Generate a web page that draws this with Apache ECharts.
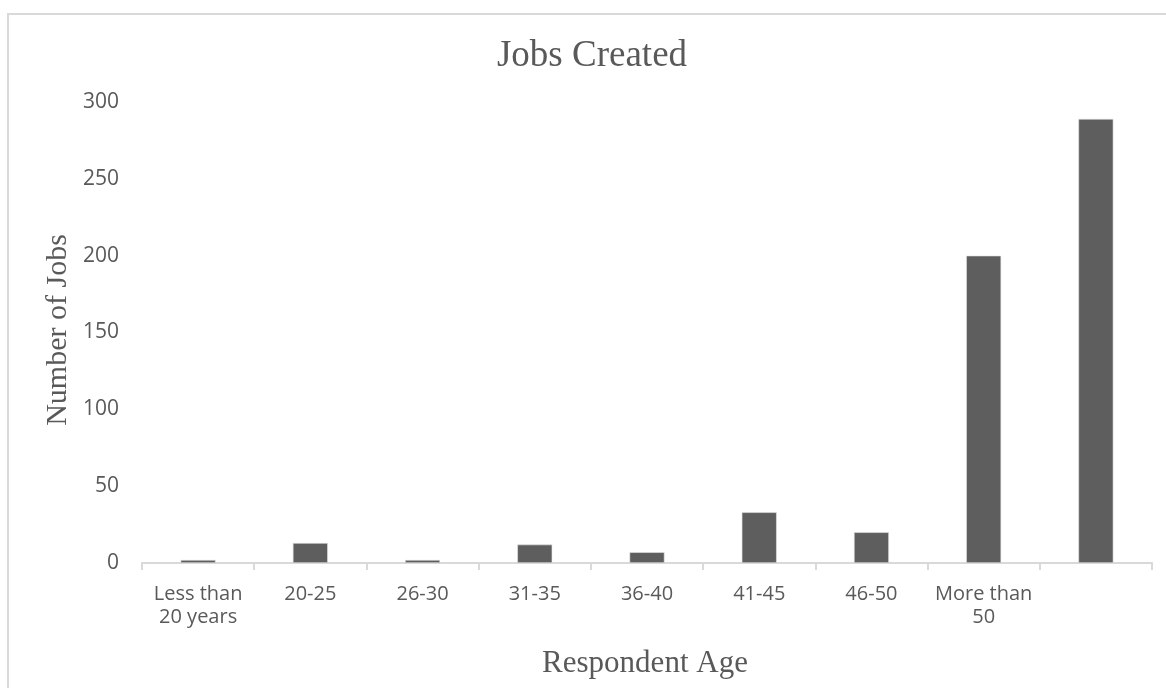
<!DOCTYPE html>
<html>
<head>
<meta charset="utf-8">
<script src="https://cdn.jsdelivr.net/npm/echarts@6/dist/echarts.min.js"></script>
<style>
html,body{margin:0;padding:0;background:#fff;}
#c{width:1166px;height:688px;}
</style>
</head>
<body>
<div id="c"></div>
<script>
const categories = ["Less than\n20 years", "20-25", "26-30", "31-35", "36-40", "41-45", "46-50", "More than\n50", ""];
const jobs = [2, 13, 2, 12, 7, 33, 20, 200, 289];
const yTicks = [0, 50, 100, 150, 200, 250, 300];
const titleText = "Jobs Created";
const xTitle = "Respondent Age";
const yTitle = "Number of Jobs";

const chart = echarts.init(document.getElementById('c'), null, {renderer: 'canvas'});
const txt = '#595959';
chart.setOption({
  animation: false,
  backgroundColor: '#fff',
  grid: {left: 142, right: 14, top: 102, bottom: 125, containLabel: false},
  xAxis: {
    type: 'category',
    data: categories,
    axisLine: {show: true, lineStyle: {color: '#d9d9d9', width: 2}},
    axisTick: {show: true, length: 7, lineStyle: {color: '#d9d9d9', width: 2}},
    axisLabel: {color: txt, fontFamily: 'Open Sans', fontSize: 20, lineHeight: 23, margin: 20, interval: 0}
  },
  yAxis: {
    type: 'value',
    min: yTicks[0],
    max: yTicks[yTicks.length - 1],
    interval: yTicks[1] - yTicks[0],
    axisLine: {show: false},
    axisTick: {show: false},
    splitLine: {show: false},
    axisLabel: {color: txt, fontFamily: 'Open Sans', fontSize: 21, margin: 23}
  },
  series: [{
    type: 'bar',
    data: jobs,
    barWidth: 35,
    itemStyle: {color: '#5e5e5e', borderColor: '#e6e6e6', borderWidth: 0.6}
  }],
  graphic: [
    {type: 'rect', shape: {x: 8, y: 14, width: 1180, height: 700}, style: {fill: 'none', stroke: '#d9d9d9', lineWidth: 2}, z: -1},
    {type: 'text', x: 592, y: 56, style: {text: titleText, font: '37px "Liberation Serif"', fill: txt, textAlign: 'center', textVerticalAlign: 'middle'}},
    {type: 'text', x: 645, y: 664, style: {text: xTitle, font: '31px "Liberation Serif"', fill: txt, textAlign: 'center', textVerticalAlign: 'middle'}},
    {type: 'text', x: 58, y: 330, rotation: Math.PI / 2, style: {text: yTitle, font: '30px "Liberation Serif"', fill: txt, textAlign: 'center', textVerticalAlign: 'middle'}}
  ]
});
</script>
</body>
</html>
